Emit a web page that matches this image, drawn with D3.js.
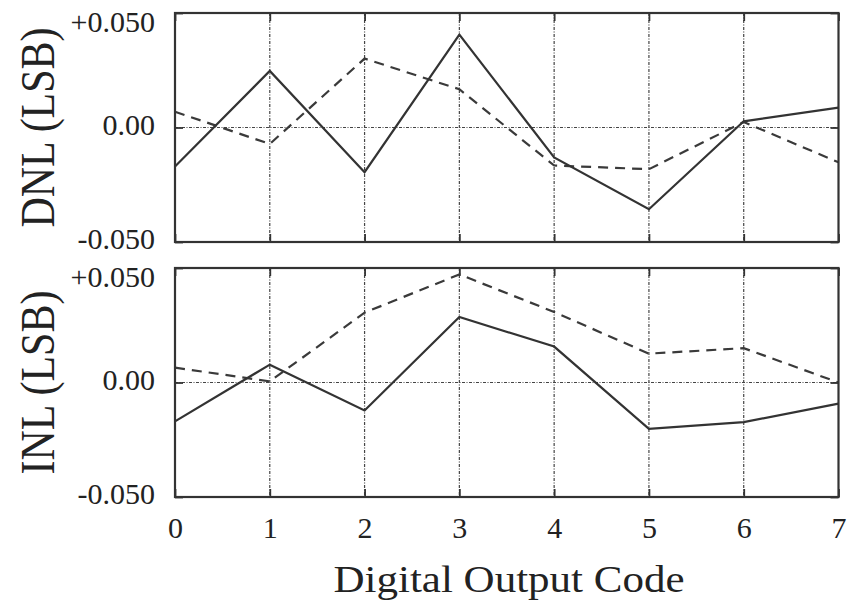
<!DOCTYPE html>
<html>
<head>
<meta charset="utf-8">
<script src="https://cdn.jsdelivr.net/npm/d3@7"></script>
<style>
  html, body { margin: 0; padding: 0; background: #fff; }
  svg { display: block; }
  text { font-family: "Liberation Serif", "Times New Roman", serif; fill: #222; }
</style>
</head>
<body>
<svg id="chart" width="856" height="601"></svg>
<script>
// Output codes along the shared x axis
const codes = [0, 1, 2, 3, 4, 5, 6, 7];

// Differential nonlinearity (LSB)
const dnlSolid  = [-0.0170, 0.0247, -0.0195, 0.0406, -0.0131, -0.0357, 0.0027, 0.0087];
const dnlDashed = [0.0069, -0.0072, 0.0301, 0.0167, -0.0166, -0.0182, 0.0024, -0.0152];

// Integral nonlinearity (LSB)
const inlSolid  = [-0.0170, 0.0078, -0.0122, 0.0286, 0.0157, -0.0202, -0.0173, -0.0092];
const inlDashed = [0.0065, 0.0005, 0.0305, 0.0472, 0.0308, 0.0126, 0.0150, 0.0000];

// Tick values and labels
const yTickValues = [-0.05, 0, 0.05];
const yTickLabels = ["-0.050", "0.00", "+0.050"];
const xTickLabels = ["0", "1", "2", "3", "4", "5", "6", "7"];

const svg = d3.select("#chart");
const left = 175, right = 838.5;
const x = d3.scaleLinear().domain([0, 7]).range([left, right]);

const panels = [
  { top: 13,  bottom: 242, title: "DNL (LSB)", solid: dnlSolid, dashed: dnlDashed, showX: false },
  { top: 268, bottom: 497, title: "INL (LSB)", solid: inlSolid, dashed: inlDashed, showX: true }
];

const ink = "#333";
const gridInk = "#444";

panels.forEach(p => {
  const y = d3.scaleLinear().domain([-0.05, 0.05]).range([p.bottom, p.top]);
  const g = svg.append("g");

  // dash-dot grid at each code and along zero
  g.selectAll("line.vgrid").data(codes.slice(1, -1)).join("line")
    .attr("x1", d => x(d)).attr("x2", d => x(d))
    .attr("y1", p.top).attr("y2", p.bottom)
    .attr("stroke", gridInk).attr("stroke-width", 1.2)
    .attr("stroke-dasharray", "3,1.5,1,1.5");
  g.append("line")
    .attr("x1", left).attr("x2", right)
    .attr("y1", y(0)).attr("y2", y(0))
    .attr("stroke", gridInk).attr("stroke-width", 1.2)
    .attr("stroke-dasharray", "3,1.5,1,1.5");

  // inward ticks on all four sides
  const bottomAxis = d3.axisBottom(x).tickValues(codes).tickSize(-8).tickPadding(20)
    .tickFormat((d, i) => p.showX ? xTickLabels[i] : "");
  const gb = g.append("g").attr("transform", `translate(0,${p.bottom})`).call(bottomAxis);
  const gt = g.append("g").attr("transform", `translate(0,${p.top})`)
    .call(d3.axisTop(x).tickValues(codes).tickSize(-8).tickFormat(""));
  const gl = g.append("g").attr("transform", `translate(${left},0)`)
    .call(d3.axisLeft(y).tickValues(yTickValues).tickSize(-8).tickPadding(20)
      .tickFormat((d, i) => yTickLabels[i]));
  const gr = g.append("g").attr("transform", `translate(${right},0)`)
    .call(d3.axisRight(y).tickValues(yTickValues).tickSize(-8).tickFormat(""));

  [gb, gt, gl, gr].forEach(a => {
    a.select(".domain").remove();
    a.selectAll(".tick line").attr("stroke", ink).attr("stroke-width", 1.8);
  });
  gb.selectAll("text").attr("font-size", 30).attr("fill", "#222");
  gl.selectAll("text").attr("font-size", 30).attr("fill", "#222")
    .attr("dy", d => d === 0.05 ? "0.62em" : "0.22em");

  // series
  const line = d3.line().x((d, i) => x(codes[i])).y(d => y(d));
  g.append("path").datum(p.dashed).attr("d", line)
    .attr("fill", "none").attr("stroke", "#3a3a3a").attr("stroke-width", 2.2)
    .attr("stroke-dasharray", "10,7");
  g.append("path").datum(p.solid).attr("d", line)
    .attr("fill", "none").attr("stroke", ink).attr("stroke-width", 2.2);

  // frame
  g.append("rect")
    .attr("x", left).attr("y", p.top)
    .attr("width", right - left).attr("height", p.bottom - p.top)
    .attr("fill", "none").attr("stroke", ink).attr("stroke-width", 2.2);

  // rotated y title
  const cy = (p.top + p.bottom) / 2;
  svg.append("text")
    .attr("transform", `translate(54,${cy}) rotate(-90) scale(1,1.18)`)
    .attr("text-anchor", "middle")
    .attr("font-size", 42)
    .text(p.title);
});

// x title, slightly compressed vertically
svg.append("text")
  .attr("transform", "translate(509,592) scale(1,0.88)")
  .attr("text-anchor", "middle")
  .attr("font-size", 43)
  .text("Digital Output Code");
</script>
</body>
</html>
